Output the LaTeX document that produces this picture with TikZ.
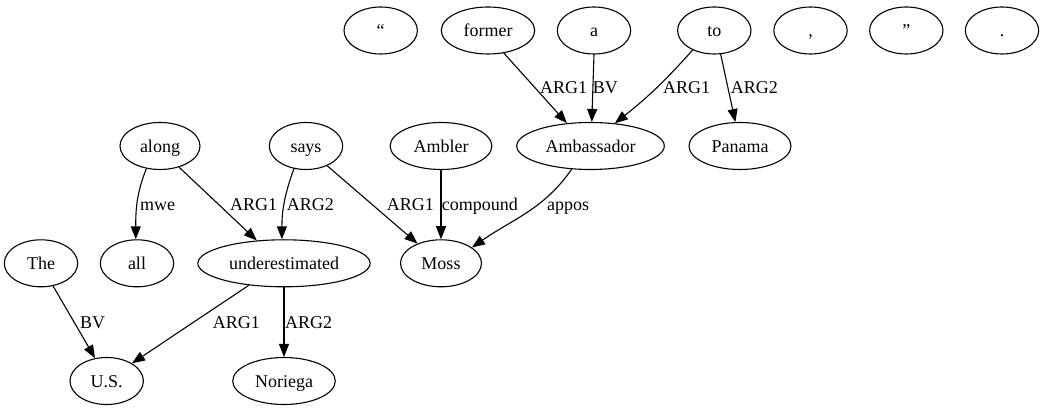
\documentclass[tikz,border=0pt]{standalone}
\usepackage{fontspec}
\setmainfont{Liberation Serif}
\usetikzlibrary{shapes.geometric,arrows.meta}
\tikzset{
  tnode/.style={ellipse, draw, line width=1.1pt, inner sep=0pt, minimum height=47pt,
    minimum width=73.4pt, text height=12.4pt, text depth=0pt, font=\fontsize{18}{20}\selectfont},
  elabel/.style={anchor=base west, inner sep=0pt, font=\fontsize{18}{20}\selectfont},
  edge/.style={line width=1.1pt, -{Triangle[length=13pt,width=10pt]}}
}
\begin{document}
\begin{tikzpicture}[x=1pt,y=1pt]
\useasboundingbox (0,0) rectangle (1044,-411);
% row 1
\node[tnode] (lq) at (380.7,-30.5) {“};
\node[tnode, minimum width=93.4pt] (former) at (488,-30.5) {former};
\node[tnode] (a) at (594,-30.5) {a};
\node[tnode] (to) at (714.3,-30.5) {to};
\node[tnode] (comma) at (810.5,-30.5) {,};
\node[tnode] (rq) at (906.3,-30.5) {”};
\node[tnode] (dot) at (1002,-30.5) {.};
% row 2
\node[tnode, minimum width=80pt] (along) at (160,-146) {along};
\node[tnode] (says) at (306,-146) {says};
\node[tnode, minimum width=101.7pt] (ambler) at (441,-146) {Ambler};
\node[tnode, minimum width=147.6pt] (amb) at (590.5,-146) {Ambassador};
\node[tnode, minimum width=102pt] (panama) at (740,-146) {Panama};
% row 3
\node[tnode] (the) at (41,-263.3) {The};
\node[tnode] (all) at (137,-263.3) {all};
\node[tnode, minimum width=172.3pt] (under) at (284,-263.3) {underestimated};
\node[tnode, minimum width=81pt] (moss) at (441,-263.3) {Moss};
% row 4
\node[tnode] (us) at (106.7,-381) {U.S.};
\node[tnode, minimum width=102.6pt] (noriega) at (284,-381) {Noriega};
% edges
\draw[edge] (former.-55) -- (amb.136);
\draw[edge] (a.-90) -- (amb.87);
\draw[edge] (to.222) to[bend left=5] (amb.43);
\draw[edge] (to.-75) -- (panama.101);
\draw[edge] (along.239) to[out=-112,in=90] (all.93);
\draw[edge] (along.-48) -- (under.140);
\draw[edge] (says.242) to[out=-110,in=90] (under.95);
\draw[edge] (says.-43.5) -- (moss.140);
\draw[edge] (ambler.-90) -- (moss.90);
\draw[edge] (amb.-129) to[out=-125,in=35] (moss.27);
\draw[edge] (the.-62) -- (us.117);
\draw[edge] (under.212) -- (us.35);
\draw[edge] (under.-90) -- (noriega.90);
% labels
\node[elabel] (l1) at (540,-94) {ARG1};
\node[elabel] (l2) at (592.7,-94) {BV};
\node[elabel] (l3) at (663,-94) {ARG1};
\node[elabel] (l4) at (730.7,-94) {ARG2};
\node[elabel] (l5) at (140,-211) {mwe};
\node[elabel] (l6) at (230,-211) {ARG1};
\node[elabel] (l7) at (286.7,-211) {ARG2};
\node[elabel] (l8) at (386.7,-211) {ARG1};
\node[elabel] (l9) at (441.7,-211) {compound};
\node[elabel] (l10) at (547,-211) {appos};
\node[elabel] (l11) at (80,-328.5) {BV};
\node[elabel] (l12) at (212.7,-328.5) {ARG1};
\node[elabel] (l13) at (285,-328.5) {ARG2};
\end{tikzpicture}
\end{document}
